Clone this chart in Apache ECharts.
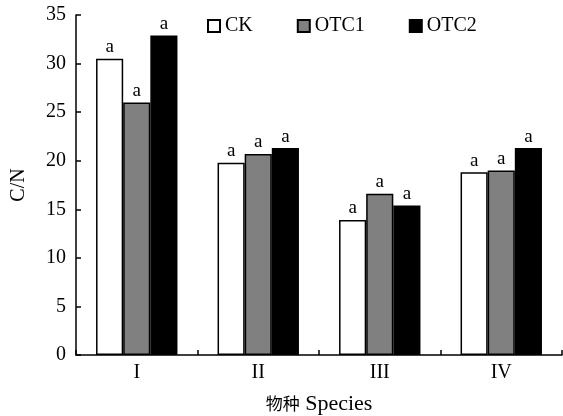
<!DOCTYPE html>
<html>
<head>
<meta charset="utf-8">
<script src="https://cdn.jsdelivr.net/npm/echarts@6/dist/echarts.min.js"></script>
<style>
  html, body { margin: 0; padding: 0; background: #fff; }
  #chart { width: 563px; height: 416px; }
</style>
</head>
<body>
<div id="chart"></div>
<script>
const species = ['I', 'II', 'III', 'IV'];
const ckValues = [30.5, 19.8, 13.9, 18.8];
const otc1Values = [26.0, 20.7, 16.6, 19.0];
const otc2Values = [32.9, 21.3, 15.4, 21.3];
const sigLabels = ['a', 'a', 'a', 'a'];

const serif = '"Liberation Serif", "Times New Roman", serif';

// === C/N BAR CHART ===
const chartDom = document.getElementById('chart');
const chart = echarts.init(chartDom);

function barSeries(name, values, fill) {
    return {
        name: name,
        type: 'bar',
        data: values,
        barGap: '0%',
        barCategoryGap: '33%',
        itemStyle: { color: fill, borderColor: '#000', borderWidth: 1.5 },
        label: {
            show: true,
            position: 'top',
            distance: 2,
            formatter: p => sigLabels[p.dataIndex],
            fontFamily: serif,
            fontSize: 19,
            color: '#000'
        }
    };
}

const option = {
    animation: false,
    backgroundColor: '#fff',
    textStyle: { fontFamily: serif, color: '#000' },
    legend: {
        top: 11,
        left: 202,
        itemWidth: 12,
        itemHeight: 12,
        itemGap: 44,
        icon: 'rect',
        textStyle: { fontFamily: serif, fontSize: 20, color: '#000' },
        data: ['CK', 'OTC1', 'OTC2']
    },
    grid: { left: 76, right: 1, top: 15, bottom: 61, outerBoundsMode: 'none' },
    xAxis: {
        type: 'category',
        data: species,
        name: '{cn|物种}{en| Species}',
        nameLocation: 'middle',
        nameGap: 38,
        nameTextStyle: {
            color: '#000',
            rich: {
                cn: { fontFamily: '"Noto Sans CJK SC", serif', fontSize: 17, color: '#000' },
                en: { fontFamily: serif, fontSize: 22, color: '#000' }
            }
        },
        axisLine: { lineStyle: { color: '#000', width: 1.5 } },
        axisTick: { show: true, inside: true, length: 5, lineStyle: { color: '#000', width: 1.5 } },
        axisLabel: { fontFamily: serif, fontSize: 20, color: '#000', margin: 8 }
    },
    yAxis: {
        type: 'value',
        min: 0,
        max: 35,
        interval: 5,
        name: 'C/N',
        nameLocation: 'middle',
        nameGap: 47,
        nameTextStyle: { fontFamily: serif, fontSize: 20, color: '#000' },
        axisLine: { show: true, lineStyle: { color: '#000', width: 1.5 } },
        axisTick: { show: true, inside: true, length: 5, lineStyle: { color: '#000', width: 1.5 } },
        axisLabel: { fontFamily: serif, fontSize: 20, color: '#000', margin: 10 },
        splitLine: { show: false }
    },
    series: [
        barSeries('CK', ckValues, '#ffffff'),
        barSeries('OTC1', otc1Values, '#808080'),
        barSeries('OTC2', otc2Values, '#000000')
    ]
};
chart.setOption(option);
window.addEventListener('resize', () => chart.resize());
</script>
</body>
</html>
